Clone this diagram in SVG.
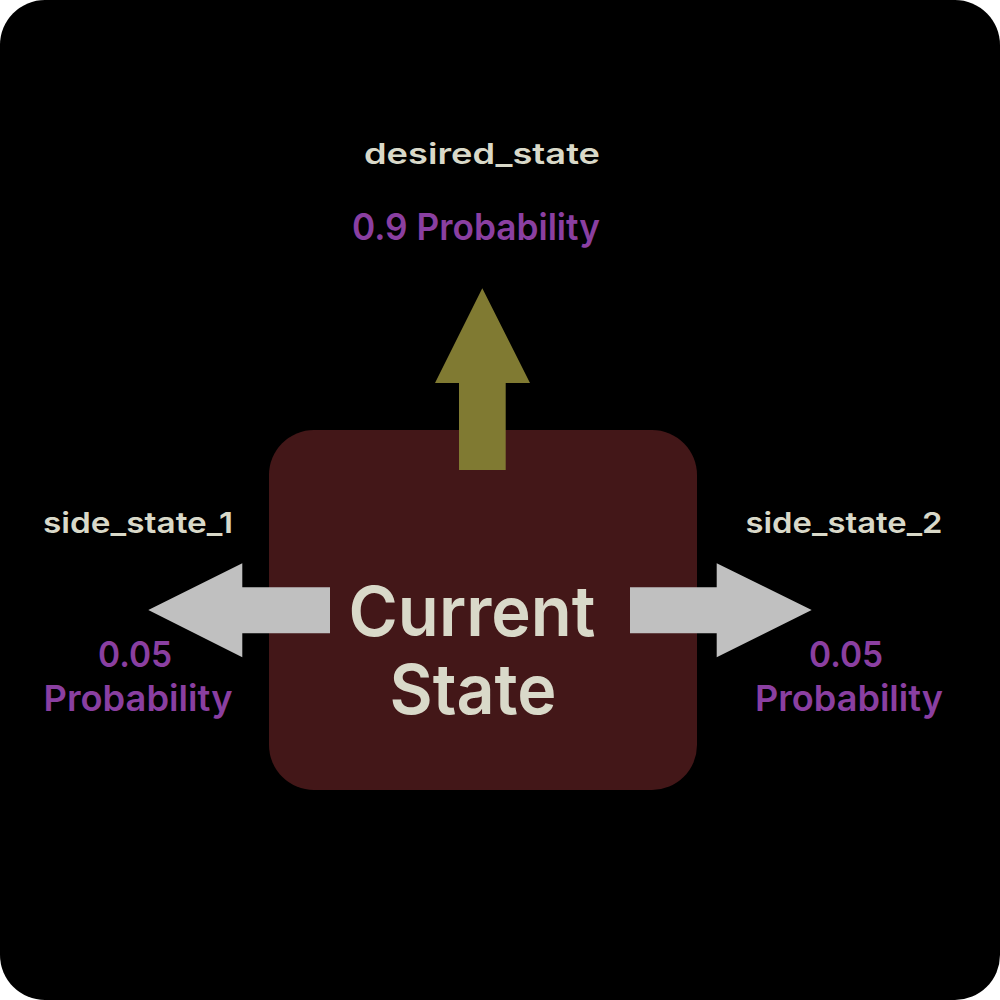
<svg xmlns="http://www.w3.org/2000/svg" width="1000" height="1000" viewBox="0 0 1000 1000">
<style>
.lbl{font-family:Inter,"Noto Sans","Liberation Sans",sans-serif;font-weight:600;fill:#d9d9c9;text-anchor:middle}
.prob{font-family:Inter,"Noto Sans","Liberation Sans",sans-serif;font-weight:600;fill:#8a3fa1;text-anchor:middle}
.main{font-family:Inter,"Noto Sans","Liberation Sans",sans-serif;font-weight:600;fill:#d9d9c9;text-anchor:middle;font-size:69px}
</style>
<rect x="0" y="0" width="1000" height="1000" fill="#ffffff"/>
<rect x="0" y="0" width="1000" height="1000" rx="45" ry="45" fill="#000000"/>
<g id="current_state">
<rect x="269" y="430" width="428" height="360" rx="45" ry="45" fill="#431718"/>
</g>
<g id="connectors">
<polygon id="arrow_up" points="459,470 459,383 435,383 482.3,288.3 530,383 505.7,383 505.7,470" fill="#807a32"/>
<polygon id="arrow_left" points="330,587.3 242.3,587.3 242.3,563.3 148.3,610 242.3,657.3 242.3,633.3 330,633.3" fill="#c0c0c0"/>
<polygon id="arrow_right" points="630,587.3 716.7,587.3 716.7,563.3 811.7,610 716.7,657.3 716.7,633.3 630,633.3" fill="#c0c0c0"/>
</g>
<g id="current_state_label">
<text class="main" x="472" y="636" textLength="247" lengthAdjust="spacingAndGlyphs">Current</text>
<text class="main" x="473" y="714" textLength="167" lengthAdjust="spacingAndGlyphs">State</text>
</g>
<g id="desired_state">
<text class="lbl" x="482" y="164" font-size="29" textLength="236" lengthAdjust="spacingAndGlyphs">desired_state</text>
<text class="prob" x="476" y="240" font-size="37" textLength="248" lengthAdjust="spacingAndGlyphs">0.9 Probability</text>
</g>
<g id="side_state_1">
<text class="lbl" x="138" y="533" font-size="29" textLength="190" lengthAdjust="spacingAndGlyphs">side_state_1</text>
<text class="prob" x="135" y="667" font-size="36" textLength="74" lengthAdjust="spacingAndGlyphs">0.05</text>
<text class="prob" x="138" y="711" font-size="36" textLength="189" lengthAdjust="spacingAndGlyphs">Probability</text>
</g>
<g id="side_state_2">
<text class="lbl" x="844" y="533" font-size="29" textLength="197" lengthAdjust="spacingAndGlyphs">side_state_2</text>
<text class="prob" x="846" y="667" font-size="36" textLength="74" lengthAdjust="spacingAndGlyphs">0.05</text>
<text class="prob" x="849" y="711" font-size="36" textLength="188" lengthAdjust="spacingAndGlyphs">Probability</text>
</g>
</svg>
